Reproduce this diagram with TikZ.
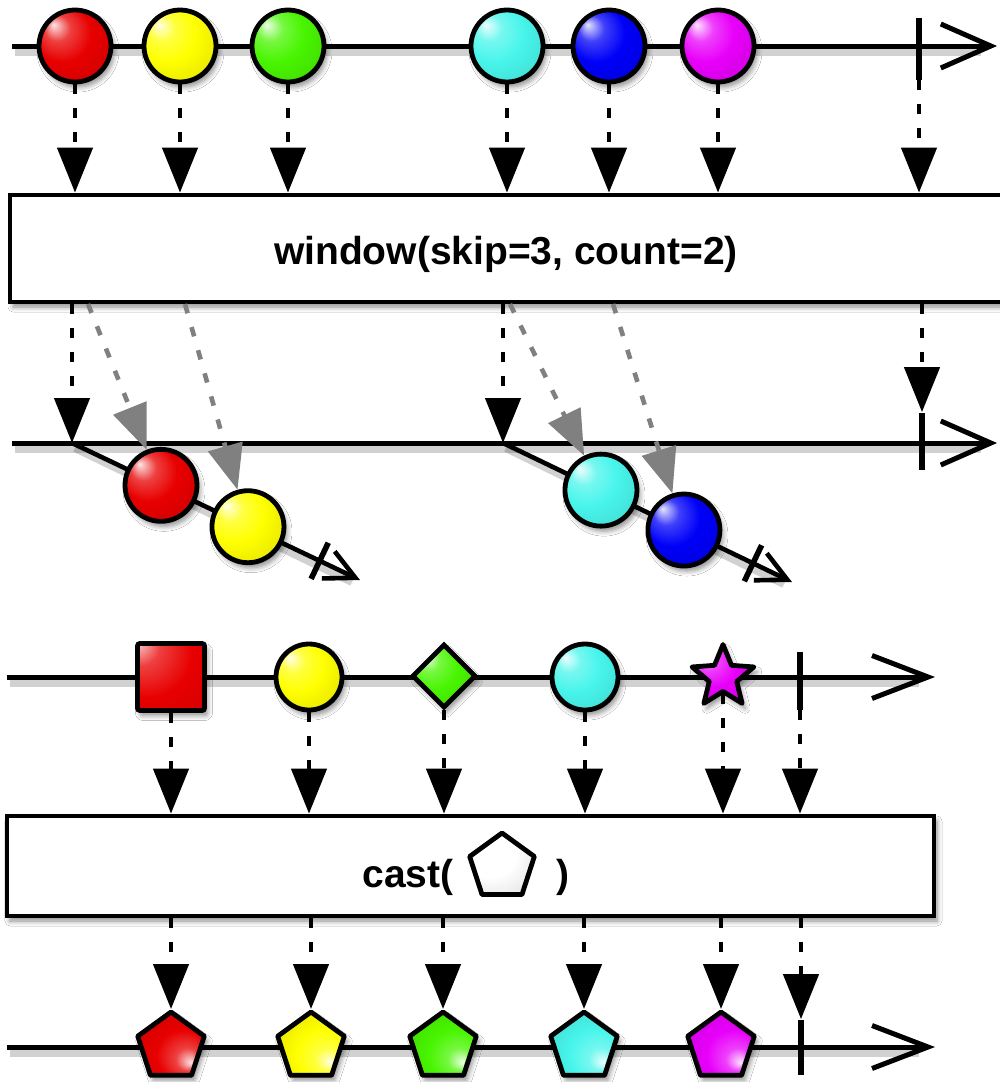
\documentclass[tikz,border=0pt]{standalone}
\usepackage{fontspec}
\setmainfont{Liberation Sans}
\usetikzlibrary{arrows.meta,shapes.geometric,shadows.blur}
\definecolor{mred}{RGB}{232,0,0}
\definecolor{myellow}{RGB}{255,255,0}
\definecolor{mgreen}{RGB}{72,245,0}
\definecolor{mcyan}{RGB}{72,245,235}
\definecolor{mblue}{RGB}{0,0,248}
\definecolor{mmag}{RGB}{232,0,250}
\definecolor{garr}{RGB}{128,128,128}
\colorlet{mcol}{red}
\pgfdeclareradialshading[mcol]{marble}{\pgfpoint{-15bp}{15bp}}{color(0bp)=(mcol!10!white); color(9bp)=(mcol!75!white); color(20bp)=(mcol); color(38bp)=(mcol!88!black); color(50bp)=(mcol!60!black)}
\begin{document}
\begin{tikzpicture}[x=0.5pt,y=-0.5pt,
 sh/.style={blur shadow={shadow xshift=1.5pt,shadow yshift=-2.5pt,shadow blur radius=2.5pt,shadow blur steps=6,shadow opacity=45}},
 glossy/.style={shade,shading=marble,/utils/exec={\colorlet{mcol}{#1}}},
 marble/.style={circle,draw,line width=2.4pt,inner sep=0pt,minimum size=36pt,glossy=#1,sh},
 smarble/.style={marble=#1,minimum size=33pt},
 sqshape/.style={rectangle,draw,line width=2.4pt,inner sep=0pt,minimum size=33.5pt,rounded corners=1.2pt,sh,
   path picture={\colorlet{mcol}{#1}\shade[shading=marble] ([shift={(-2pt,2pt)}]path picture bounding box.center) circle (28pt);}},
 dmshape/.style={diamond,draw,line width=2.4pt,inner sep=0pt,minimum width=32pt,minimum height=32pt,glossy=#1,sh},
 stshape/.style={star,star points=5,star point ratio=2.25,draw,line width=2.4pt,inner sep=0pt,minimum size=32.5pt,line join=round,glossy=#1,sh},
 pent/.style={regular polygon,regular polygon sides=5,draw,line width=2.4pt,inner sep=0pt,minimum size=35pt,line join=round,glossy=#1,shading angle=180,sh},
 ticknode/.style={rectangle,fill=black,inner sep=0pt,minimum width=2.8pt,minimum height=#1},
 opbox/.style={rectangle,draw,line width=2.4pt,fill=white,inner sep=0pt,sh},
 tline/.style={line width=2.5pt,-{Straight Barb[length=25pt,width=22pt]}},
 tline2/.style={line width=2.5pt,-{Straight Barb[length=28pt,width=21.5pt]}},
 dline/.style={line width=2.3pt,-{Straight Barb[length=15pt,width=15pt]}},
 shline/.style={draw=black,line width=5pt,opacity=0.18},
 dotarr/.style={line width=2.3pt,dash pattern=on 4.8pt off 7.2pt,-{Triangle[width=17.5pt,length=22.5pt]}},
 grayarr/.style={dotarr,draw=garr},
 lbl/.style={font=\fontsize{19.5}{23}\selectfont\bfseries,inner sep=0pt}]
\clip (0,0) rectangle (1000,1082);
\fill[white] (0,0) rectangle (1000,1082);

% ---------- top timeline ----------
\coordinate (L1a) at (12,46); \coordinate (L1b) at (997,46);
\draw[shline] ([shift={(1.5pt,-2.5pt)}]L1a) -- ([shift={(-8pt,-2.5pt)}]L1b);
\draw[tline] (L1a) -- (L1b);
\node[ticknode=31pt] (t1) at (919,49) {};

% ---------- window box ----------
\node[opbox,minimum width=500pt,minimum height=53.5pt] (win) at (510,248.5) {};
\node[lbl,anchor=base] (wtxt) at (506,264) {window(skip=3, count=2)};

% ---------- middle timeline ----------
\coordinate (L2a) at (12,443); \coordinate (L2b) at (997,443);
\draw[shline] ([shift={(1.5pt,-2.5pt)}]L2a) -- ([shift={(-8pt,-2.5pt)}]L2b);
\draw[tline] (L2a) -- (L2b);
\node[ticknode=28.5pt] (t2) at (922,441) {};

% ---------- windows ----------
\coordinate (w1s) at (72,443); \coordinate (w1e) at (360,580);
\coordinate (w2s) at (503,443); \coordinate (w2e) at (792,582);
\draw[shline,line width=4pt] ([shift={(1.5pt,-2.5pt)}]w1s) -- ([shift={(-4pt,-1pt)}]w1e);
\draw[shline,line width=4pt] ([shift={(1.5pt,-2.5pt)}]w2s) -- ([shift={(-4pt,-1pt)}]w2e);
\draw[dline] (w1s) -- (w1e);
\draw[dline] (w2s) -- (w2e);
\path (w1s) -- (w1e) node[pos=0.86,sloped,ticknode=20pt] (dt1) {};
\path (w2s) -- (w2e) node[pos=0.865,sloped,ticknode=20pt] (dt2) {};
\path (w1s) -- (w1e) node[pos=0.309,marble=mred] (d1r) {} node[pos=0.611,marble=myellow] (d1y) {};
\path (w2s) -- (w2e) node[pos=0.339,marble=mcyan] (d2c) {} node[pos=0.626,marble=mblue] (d2b) {};

% ---------- top marbles ----------
\node[marble=mred] (a1) at (75,46) {};
\node[marble=myellow] (a2) at (180,46) {};
\node[marble=mgreen] (a3) at (288,46) {};
\node[marble=mcyan] (a4) at (507,46) {};
\node[marble=mblue] (a5) at (609,46) {};
\node[marble=mmag] (a6) at (718,46) {};
\foreach \n in {a1,a2,a3,a4,a5,a6,t1} \draw[dotarr] (\n) -- (\n |- win.north);

% ---------- window output arrows ----------
\draw[dotarr] (win.south -| w1s) -- (w1s);
\draw[dotarr] (win.south -| w2s) -- (w2s);
\draw[dotarr] (win.south -| t2) -- (t2);
\coordinate (g1) at (88,304); \coordinate (g2) at (185,304);
\coordinate (g3) at (510,304); \coordinate (g4) at (613,304);
\draw[grayarr] (g1) -- (d1r);
\draw[grayarr] (g2) -- (d1y);
\draw[grayarr] (g3) -- (d2c);
\draw[grayarr] (g4) -- (d2b);

% ---------- cast input ----------
\coordinate (L3a) at (7,677); \coordinate (L3b) at (935,677);
\draw[shline] ([shift={(1.5pt,-2.5pt)}]L3a) -- ([shift={(-8pt,-2.5pt)}]L3b);
\draw[tline2] (L3a) -- (L3b);
\node[sqshape=mred] (b1) at (171,677) {};
\node[smarble=myellow] (b2) at (309,677) {};
\node[dmshape=mgreen] (b3) at (444,676) {};
\node[smarble=mcyan] (b4) at (585,677) {};
\node[stshape=mmag] (b5) at (723,677) {};
\node[ticknode=29pt] (t3) at (800,681) {};

% ---------- cast box ----------
\node[opbox,minimum width=463.5pt,minimum height=50pt] (cast) at (470.5,866) {};
\node[lbl,anchor=base east] (ctxt1) at (454,887) {cast(};
\node[regular polygon,regular polygon sides=5,draw,line width=2.4pt,inner sep=0pt,minimum size=34pt,line join=round,glossy=white] (cp) at (502,867) {};
\node[lbl,anchor=base west] (ctxt2) at (556,887) {)};
\foreach \n in {b1,b2,b3,b4,b5,t3} \draw[dotarr] (\n) -- (\n |- cast.north);

% ---------- cast output ----------
\coordinate (L4a) at (7,1047); \coordinate (L4b) at (935,1047);
\draw[shline] ([shift={(1.5pt,-2.5pt)}]L4a) -- ([shift={(-8pt,-2.5pt)}]L4b);
\draw[tline2] (L4a) -- (L4b);
\node[pent=mred] (p1) at (171,1047) {};
\node[pent=myellow] (p2) at (311,1047) {};
\node[pent=mgreen] (p3) at (443,1047) {};
\node[pent=mcyan] (p4) at (584,1047) {};
\node[pent=mmag] (p5) at (721,1047) {};
\node[ticknode=27.5pt] (t4) at (801,1047) {};
\foreach \n in {p1,p2,p3,p4,p5,t4} \draw[dotarr] (cast.south -| \n) -- (\n);
\end{tikzpicture}
\end{document}
